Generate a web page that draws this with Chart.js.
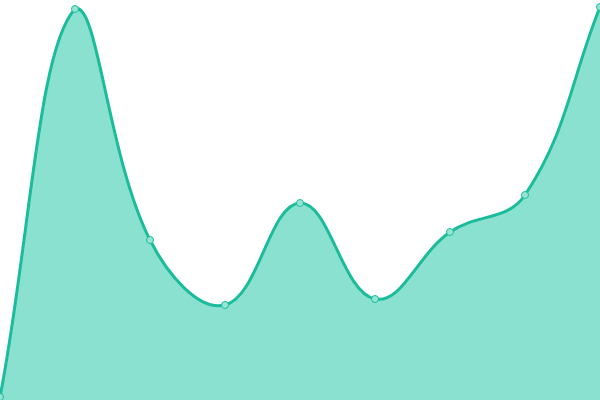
<!DOCTYPE html>
<html>
<head>
<meta charset="utf-8">
<script src="https://cdn.jsdelivr.net/npm/chart.js@4"></script>
<style>
  html, body { margin: 0; padding: 0; background: #fff; }
  #wrap { width: 600px; height: 400px; }
</style>
</head>
<body>
<div id="wrap"><canvas id="chart"></canvas></div>
<script>
// values (scale 0..400, hidden axes)
var labels = ['1', '2', '3', '4', '5', '6', '7', '8', '9'];
var values = [3, 391, 160, 95, 197, 101, 168, 205, 393];
var yMin = 0;
var yMax = 400;

var lineColor = '#1abc9c';
var fillColor = 'rgba(22, 196, 160, 0.5)';
var pointFill = '#97e4d5';

new Chart(document.getElementById('chart'), {
    type: 'line',
    data: {
        labels: labels,
        datasets: [{
            data: values,
            borderColor: lineColor,
            backgroundColor: fillColor,
            pointBackgroundColor: pointFill,
            pointBorderColor: lineColor,
            pointRadius: 3.5,
            pointBorderWidth: 1,
            borderWidth: 3,
            tension: 0.4,
            fill: 'start'
        }]
    },
    options: {
        responsive: true,
        maintainAspectRatio: false,
        animation: false,
        layout: { padding: 0, autoPadding: false },
        plugins: {
            legend: { display: false },
            tooltip: { enabled: false }
        },
        scales: {
            x: { display: false },
            y: { display: false, min: yMin, max: yMax }
        }
    }
});
</script>
</body>
</html>
